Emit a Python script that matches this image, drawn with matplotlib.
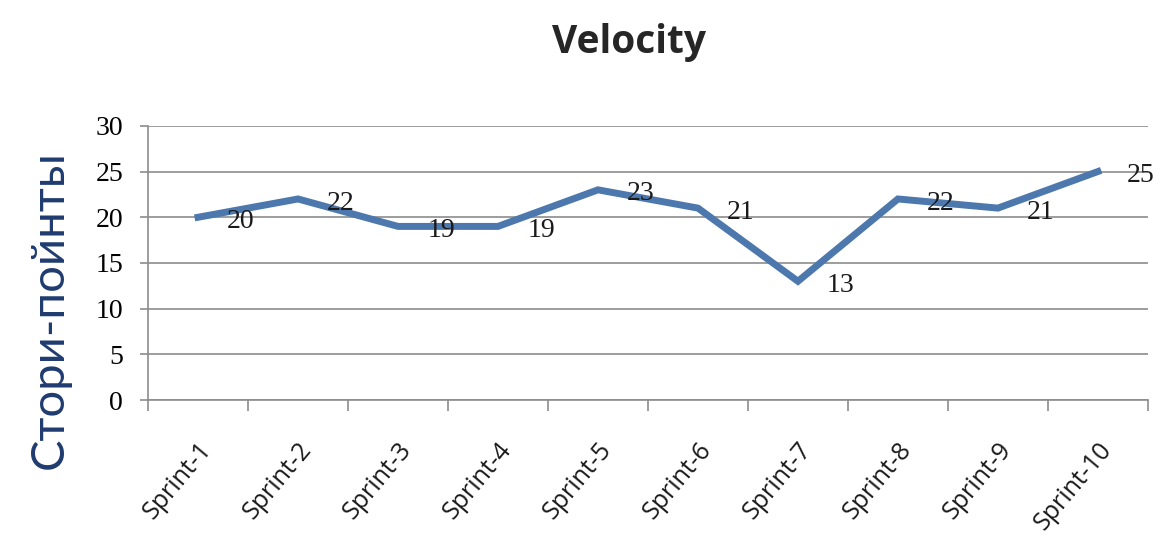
import matplotlib
matplotlib.use("Agg")
import matplotlib.pyplot as plt
import numpy as np

sprints = ["Sprint-1", "Sprint-2", "Sprint-3", "Sprint-4", "Sprint-5",
           "Sprint-6", "Sprint-7", "Sprint-8", "Sprint-9", "Sprint-10"]
velocity = [20, 22, 19, 19, 23, 21, 13, 22, 21, 25]
y_ticks = [0, 5, 10, 15, 20, 25, 30]

LINE = "#4C78AD"
GRID = "#8C8C8C"

fig = plt.figure(figsize=(11.63, 5.4), dpi=100)
ax = fig.add_axes([0.1273, 0.259, 0.8597, 0.508])

x = np.arange(len(sprints))
ax.plot(x, velocity, color=LINE, linewidth=5, solid_joinstyle="miter", zorder=3)

# value labels to the right of each point
for xi, v in zip(x, velocity):
    ax.annotate(str(v), (xi, v), xytext=(21, -3), textcoords="offset points",
                ha="left", va="center", fontsize=20, family="Liberation Serif",
                color="#1a1a1a", zorder=4)

ax.set_xlim(-0.5, len(sprints) - 0.5)
ax.set_ylim(0, 30)
ax.set_yticks(y_ticks)
ax.set_yticklabels([str(t) for t in y_ticks], family="Liberation Serif", fontsize=20)
ax.yaxis.grid(True, color=GRID, linewidth=1.2)
ax.set_axisbelow(True)

# category labels at centers, tick marks on boundaries
ax.set_xticks(x)
ax.set_xticklabels(sprints, rotation=50, ha="right", va="top", rotation_mode="anchor",
                   fontsize=18, family="Open Sans", color="#1a1a1a")
ax.tick_params(axis="x", length=0, pad=27)
ax.set_xticks(np.arange(-0.5, len(sprints), 1.0), minor=True)
ax.tick_params(axis="x", which="minor", length=8, color=GRID, width=1.2)
ax.tick_params(axis="y", length=6, color=GRID, width=1.2, pad=12)

for s in ["top", "right"]:
    ax.spines[s].set_visible(False)
for s in ["left", "bottom"]:
    ax.spines[s].set_color(GRID)
    ax.spines[s].set_linewidth(1.2)

fig.text(0.541, 0.922, "Velocity", ha="center", va="center", fontsize=28,
         fontweight="bold", family="Open Sans", color="#262626")
fig.text(0.043, 0.426, "Стори-пойнты", rotation=90, ha="center", va="center",
         fontsize=34, family="Lato", color="#1F3B6F")

fig.savefig("out.png", dpi=100)
